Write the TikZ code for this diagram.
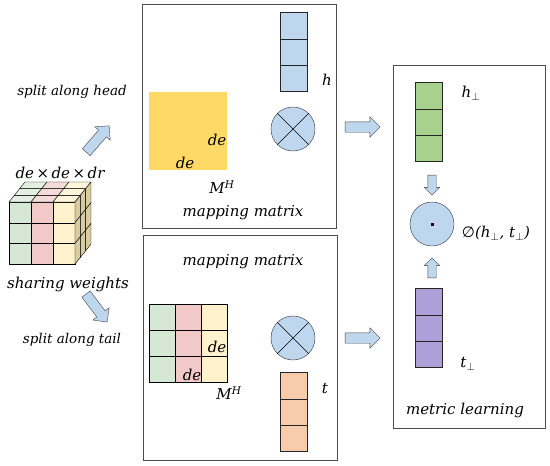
\documentclass[tikz,border=0pt]{standalone}
\usepackage{amsmath,amssymb}
\usepackage{fontspec}
\setmainfont{DejaVu Serif}
\newfontfamily\symfont{DejaVu Sans}
\usepackage{xcolor}
\usepackage{tikz}
\usetikzlibrary{arrows.meta,positioning,calc,shapes.arrows,shapes.multipart}

\definecolor{cgreen}{HTML}{D5E8D4}
\definecolor{cpink}{HTML}{F2C9C9}
\definecolor{cyellow}{HTML}{FFF2CC}
\definecolor{ctan}{HTML}{D8CBA2}
\definecolor{cgold}{HTML}{FFD966}
\definecolor{cblue}{HTML}{BFD7EE}
\definecolor{cleaf}{HTML}{A9D18E}
\definecolor{cviolet}{HTML}{ADA0D8}
\definecolor{corange}{HTML}{F8CBAD}

\begin{document}
\begin{tikzpicture}[
  x=1pt,y=-1pt,
  font=\itshape\fontsize{15}{17}\selectfont,
  panel/.style={draw=black!70,semithick,minimum width=194pt,minimum height=224pt},
  vec/.style={rectangle split,rectangle split parts=3,draw=black!85,inner sep=0pt,
    minimum width=27pt,rectangle split empty part height=26pt,rectangle split empty part depth=0pt},
  blockarr/.style={single arrow,draw=black!75,fill=cblue,inner sep=5pt,
    single arrow head extend=5pt,minimum height=35pt},
  smallarr/.style={blockarr,inner sep=4pt,single arrow head extend=3.5pt,minimum height=20pt},
  prod/.style={circle,draw=black!80,fill=cblue,minimum size=44pt,inner sep=0pt},
  lbl/.style={inner sep=1pt},
  note/.style={lbl,font=\itshape\fontsize{13.5}{15}\selectfont}
]
\useasboundingbox (0,0) rectangle (550,466);

% cube
\foreach \i/\c in {0/cgreen,1/cpink,2/cyellow}{
  \foreach \j in {0,1,2}
    \draw[fill=\c] (9+22*\i,202+20.7*\j) rectangle ++(22,20.7);
  \foreach \k in {0,1,2}
    \draw[fill=\c!70] (9+22*\i+5.33*\k,202-6.67*\k) -- ++(22,0) -- ++(5.33,-6.67) -- ++(-22,0) -- cycle;
}
\foreach \j in {0,1,2}
  \foreach \k in {0,1,2}
    \draw[fill=ctan] (75+5.33*\k,202+20.7*\j-6.67*\k) -- ++(5.33,-6.67) -- ++(0,20.7) -- ++(-5.33,6.67) -- cycle;
\node[lbl] (dims) at (60,173) {de\,×\,de\,×\,dr};
\node[lbl] (share) at (68,284) {sharing weights};
\node[note] (splith) at (72,92) {split along head};
\node[note] (splitt) at (72,340) {split along tail};
\node[blockarr,rotate=49] (toh) at (96,141) {};
\node[blockarr,rotate=-53] (tot) at (95,306) {};

% head panel
\node[panel] (headbox) at (239,116) {};
\node[vec,fill=cblue] (h) at (293.5,52) {\nodepart{two}\nodepart{three}};
\node[lbl] (hl) at (327,80) {h};
\fill[cgold] (149,92) rectangle (227,170);
\node[lbl] (de1) at (217,140) {de};
\node[lbl] (de2) at (185,163) {de};
\node[lbl] (mh) at (222,187) {M\textsuperscript{H}};
\node[lbl] (maph) at (243,213) {mapping matrix};
\node[prod] (xh) at (293,129) {};
\draw[semithick] (xh.45) -- (xh.225) (xh.135) -- (xh.-45);

% tail panel
\node[panel,minimum height=225pt] (tailbox) at (240,347.5) {};
\node[lbl] (mapt) at (243,262) {mapping matrix};
\foreach \i/\c in {0/cgreen,1/cpink,2/cyellow}
  \foreach \j in {0,1,2}
    \draw[fill=\c] (149+26*\i,304+26*\j) rectangle ++(26,26);
\node[lbl] (de3) at (217,347) {de};
\node[lbl] (de4) at (192,375) {de};
\node[lbl] (mt) at (229,393) {M\textsuperscript{H}};
\node[prod] (xt) at (293,338) {};
\draw[semithick] (xt.45) -- (xt.225) (xt.135) -- (xt.-45);
\node[vec,fill=corange] (t) at (293.5,412) {\nodepart{two}\nodepart{three}};
\node[lbl] (tl) at (325,389) {t};

\node[blockarr] (fromh) at (360,127) {};
\node[blockarr] (fromt) at (360,338) {};

% metric panel
\node[panel,minimum width=152pt,minimum height=363pt] (metric) at (469,246.5) {};
\node[vec,fill=cleaf] (hp) at (429,122) {\nodepart{two}\nodepart{three}};
\node[lbl] (hpl) at (471,93) {h$_\perp$};
\node[smallarr,rotate=-90] (down) at (432,183) {};
\node[prod,fill=cblue] (dot) at (432,224) {};
\fill (dot.center) ++(-1.5,-1.5) rectangle ++(3,3);
\node[lbl] (score) at (496,233) {{\upshape\symfont ∅}(h$_\perp$, t$_\perp$)};
\node[smallarr,rotate=90] (up) at (432,270) {};
\node[vec,fill=cviolet] (tp) at (429,328) {\nodepart{two}\nodepart{three}};
\node[lbl] (tpl) at (468,364) {t$_\perp$};
\node[lbl] (metl) at (465,410) {metric learning};
\end{tikzpicture}
\end{document}
